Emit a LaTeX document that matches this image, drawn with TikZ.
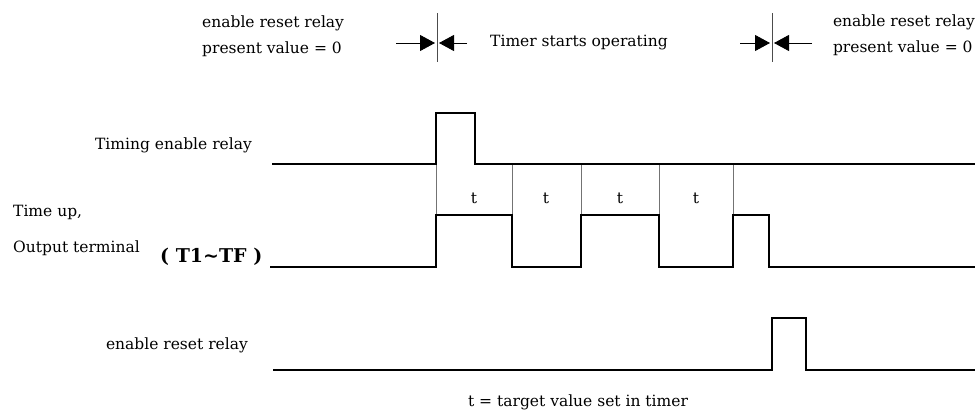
\documentclass[tikz,border=0pt]{standalone}
\usepackage{fontspec}
\setmainfont{DejaVu Serif}
\usetikzlibrary{arrows.meta,positioning}

\begin{document}
\begin{tikzpicture}[
    x=1pt, y=-1pt,
    txt/.style={inner sep=0pt, font=\fontsize{15.5}{26}\selectfont},
    wave/.style={line width=2.6pt},
    guide/.style={line width=0.6pt, draw=black!55},
    tick/.style={line width=0.9pt, draw=black!70},
    arrow/.style={-{Triangle[length=15pt,width=16pt]}, line width=0.9pt}
]
\useasboundingbox[fill=white] (0,0) rectangle (975,415);

\node[txt, align=left, anchor=west] (resetA) at (202,36) {enable reset relay\\present value = 0};
\node[txt, align=left, anchor=east] (resetC) at (975,35) {enable reset relay\\present value = 0};
\node[txt, anchor=west] (timer) at (490,43) {Timer starts operating};

\coordinate (m1) at (437,43);
\coordinate (m2) at (772,43);
\draw[tick] ([yshift=30pt]m1) -- ([yshift=-19pt]m1);
\draw[tick] ([yshift=30pt]m2) -- ([yshift=-19pt]m2);
\draw[arrow] ([xshift=-41pt]m1) -- ([xshift=-2pt]m1);
\draw[arrow] ([xshift=30pt]m1) -- ([xshift=2pt]m1);
\draw[arrow] ([xshift=-32pt]m2) -- ([xshift=-2pt]m2);
\draw[arrow] ([xshift=40pt]m2) -- ([xshift=2pt]m2);

\node[txt, anchor=east] (timing) at (252,145) {Timing enable relay};
\node[txt, anchor=west] (timeup) at (13,212) {Time up,};
\node[txt, anchor=west] (output) at (13,248) {Output terminal};
\node[inner sep=0pt, anchor=west, font=\fontsize{19}{21}\selectfont\bfseries] (tnum) at (160,257) {( T1\textasciitilde TF )};
\node[txt, anchor=east] (resetB) at (248,345) {enable reset relay};
\node[txt] (note) at (578,402) {t = target value set in timer};

\foreach \x in {436,512,581,659,733}
    \draw[guide] (\x,164) -- (\x,215);
\foreach \x [count=\i] in {474,546,620,696}
    \node[txt] (t\i) at (\x,198) {t};

\draw[wave] (272,164) -- (436,164) -- (436,113) -- (475,113) -- (475,164) -- (975,164);
\draw[wave] (270,267) -| (436,215) -| (512,267) -| (581,215) -| (659,267) -| (733,215) -| (769,267) -- (975,267);
\draw[wave] (273,370) -| (772,318) -| (806,370) -- (975,370);
\end{tikzpicture}
\end{document}
